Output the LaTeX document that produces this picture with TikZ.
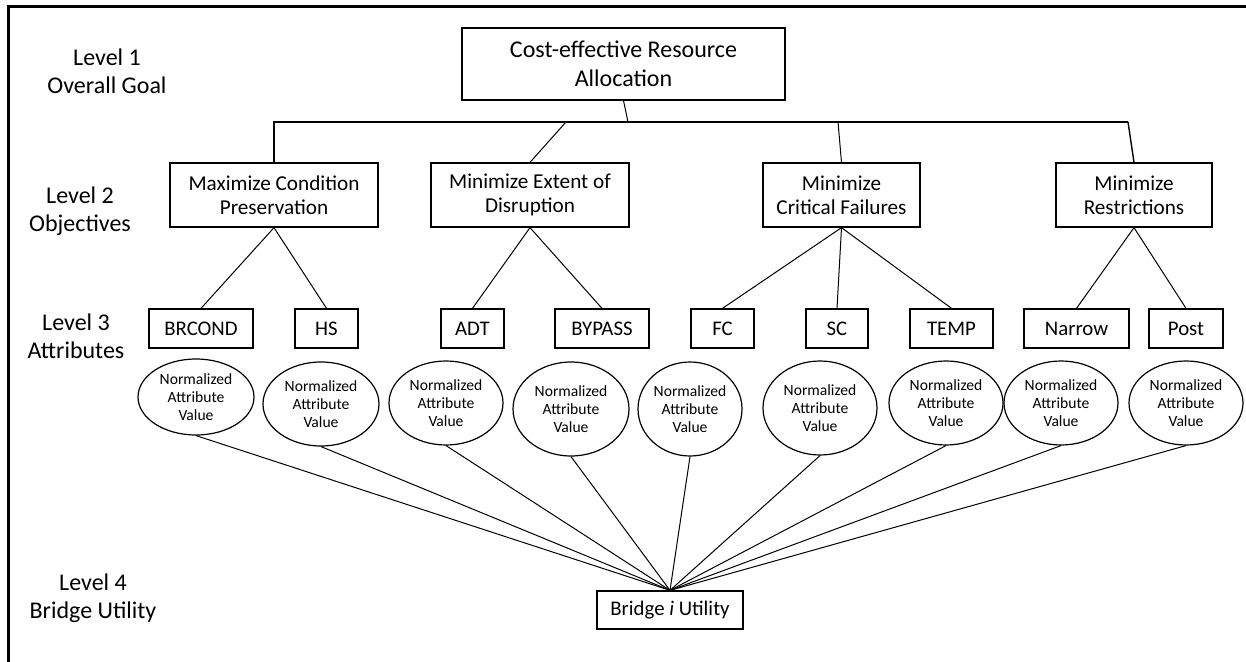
\documentclass[tikz,border=0pt]{standalone}
\usepackage{fontspec}
\setmainfont{Carlito}
\usetikzlibrary{shapes.geometric}
\begin{document}
\begin{tikzpicture}[x=0.5pt,y=-0.5pt,
  box/.style={draw,line width=0.65pt,inner sep=0pt,align=center},
  sz/.style 2 args={minimum width=#1*0.5pt,minimum height=#2*0.5pt},
  goal/.style={box,font=\fontsize{12}{14.5}\selectfont},
  obj/.style={box,font=\fontsize{10.6}{12}\selectfont},
  attr/.style={box,font=\fontsize{10.4}{12}\selectfont},
  val/.style={draw,ellipse,line width=0.6pt,inner sep=0pt,align=center,font=\fontsize{7.8}{9}\selectfont},
  lvl/.style={align=center,inner sep=0pt,font=\fontsize{12}{14}\selectfont},
  conn/.style={line width=0.5pt},
  bus/.style={line width=1.4pt},
  frame/.style={line width=1.5pt}]
\useasboundingbox (0,0) rectangle (1246,662);
\clip (0,0) rectangle (1246,662);
% frame (right and bottom sides are cut off in the reference)
\coordinate (fb) at (8,670);
\coordinate (ftl) at (8,7);
\coordinate (fr) at (1250,7);
\draw[frame] (fb) -- (ftl) -- (fr);

% level labels
\node[lvl] (lv1) at (107,71) {Level 1\\Overall Goal};
\node[lvl] (lv2) at (80,211) {Level 2\\Objectives};
\node[lvl] (lv3) at (76,336) {Level 3\\Attributes};
\node[lvl] (lv4) at (93,598) {Level 4\\Bridge Utility};

% level 1
\node[goal,sz={323}{72}] (top) at (623.5,64) {Cost-effective Resource\\Allocation};

% level 2
\node[obj,sz={208}{64}] (oa) at (274,195) {Maximize Condition\\Preservation};
\node[obj,sz={198}{64}] (ob) at (530,195) {Minimize Extent of\\Disruption};
\node[obj,sz={157}{64}] (oc) at (841.5,195) {Minimize\\Critical Failures};
\node[obj,sz={156}{64}] (od) at (1134,195) {Minimize\\Restrictions};

% bus
\coordinate (busL) at (274,122);
\coordinate (busR) at (1128,122);
\coordinate (busT) at (628,122);
\coordinate (busB) at (566,122);
\coordinate (busC) at (838,122);
\draw[bus] (oa.north) -- (busL) -- (busR);
\draw[conn,line width=0.7pt] (busR) -- (od.north);
\draw[conn] (top.south) -- (busT);
\draw[conn] (busB) -- (ob.north);
\draw[conn] (busC) -- (oc.north);

% level 3
\node[attr,sz={104}{39}] (a1) at (201,328.5) {BRCOND};
\node[attr,sz={63}{39}] (a2) at (326.5,328.5) {HS};
\node[attr,sz={63}{39}] (a3) at (472.5,328.5) {ADT};
\node[attr,sz={94}{39}] (a4) at (602,328.5) {BYPASS};
\node[attr,sz={63}{39}] (a5) at (722.5,328.5) {FC};
\node[attr,sz={62}{39}] (a6) at (837,328.5) {SC};
\node[attr,sz={83}{39}] (a7) at (951.5,328.5) {TEMP};
\node[attr,sz={105}{39}] (a8) at (1076.5,328.5) {Narrow};
\node[attr,sz={74}{39}] (a9) at (1186,328.5) {Post};

\draw[conn] (a1.north) -- (oa.south) -- (a2.north);
\draw[conn] (a3.north) -- (ob.south) -- (a4.north);
\draw[conn] (a5.north) -- (oc.south) -- (a7.north);
\draw[conn] (oc.south) -- (a6.north);
\draw[conn] (a8.north) -- (od.south) -- (a9.north);

% normalized values
\node[val,sz={116}{76}] (e1) at (196,397) {Normalized\\Attribute\\Value};
\node[val,sz={116}{84}] (e2) at (321,404) {Normalized\\Attribute\\Value};
\node[val,sz={114}{84}] (e3) at (446,403) {Normalized\\Attribute\\Value};
\node[val,sz={116}{94}] (e4) at (571,409) {Normalized\\Attribute\\Value};
\node[val,sz={104}{94}] (e5) at (690,409) {Normalized\\Attribute\\Value};
\node[val,sz={114}{94}] (e6) at (820,408) {Normalized\\Attribute\\Value};
\node[val,sz={114}{84}] (e7) at (946,403) {Normalized\\Attribute\\Value};
\node[val,sz={114}{84}] (e8) at (1061,403) {Normalized\\Attribute\\Value};
\node[val,sz={114}{84}] (e9) at (1186,403) {Normalized\\Attribute\\Value};

% level 4
\node[attr,sz={146}{38}] (bu) at (670,610) {Bridge \textit{i} Utility};
\foreach \e in {e1,e2,e3,e4,e5,e6,e7,e8,e9}
  \draw[conn] (\e.south) -- (bu.north);
\end{tikzpicture}
\end{document}
